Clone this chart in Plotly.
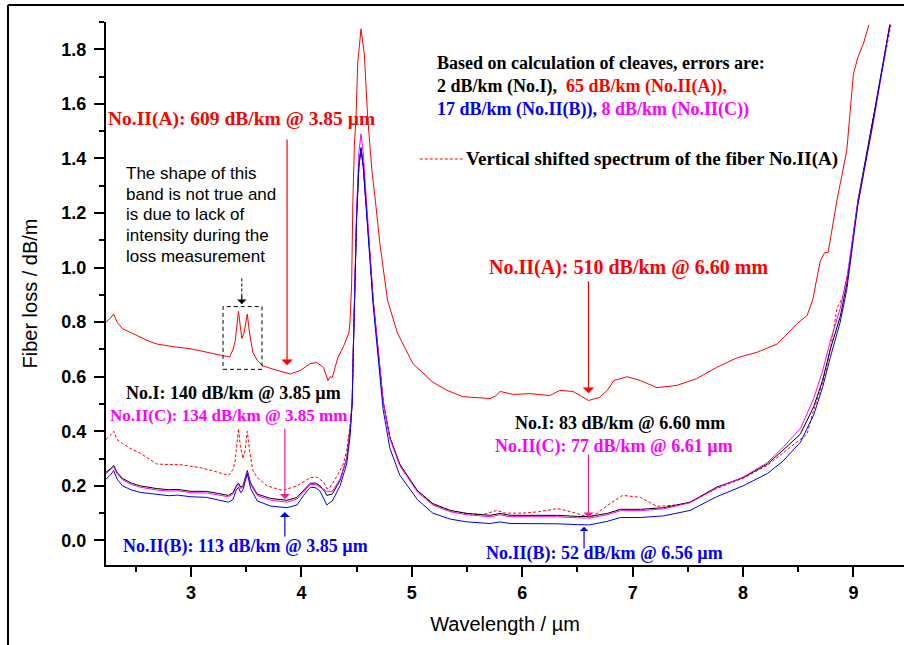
import plotly.graph_objects as go

# ---------------- data ----------------
wl_IIA = [2.23, 2.27, 2.30, 2.33, 2.38, 2.46, 2.54, 2.62, 2.69, 2.84, 2.99, 3.14, 3.29, 3.35, 3.38, 3.40,
          3.43, 3.445, 3.46, 3.48, 3.51, 3.53, 3.56, 3.60, 3.65, 3.78, 3.90, 3.99, 4.08, 4.14, 4.20, 4.24,
          4.26, 4.28, 4.33, 4.38, 4.41, 4.43, 4.44, 4.455, 4.466, 4.48, 4.495, 4.51, 4.54, 4.57, 4.60, 4.64,
          4.67, 4.71, 4.78, 4.87, 5.01, 5.19, 5.32, 5.46, 5.71, 5.76, 5.80, 5.92, 6.07, 6.25, 6.34, 6.46,
          6.53, 6.60, 6.70, 6.77, 6.83, 6.95, 7.07, 7.22, 7.40, 7.58, 7.76, 7.95, 8.13, 8.31, 8.49, 8.58,
          8.63, 8.70, 8.74, 8.77, 8.80, 8.85, 8.94, 9.00, 9.04, 9.09, 9.14]
loss_IIA = [0.80, 0.815, 0.83, 0.80, 0.776, 0.76, 0.744, 0.73, 0.72, 0.71, 0.703, 0.69, 0.678, 0.672, 0.70, 0.73,
            0.84, 0.78, 0.74, 0.76, 0.83, 0.76, 0.69, 0.66, 0.64, 0.623, 0.61, 0.623, 0.648, 0.652, 0.634, 0.586,
            0.60, 0.598, 0.67, 0.71, 0.74, 0.76, 0.80, 0.94, 1.245, 1.45, 1.556, 1.75, 1.875, 1.78, 1.55, 1.35,
            1.245, 1.09, 0.88, 0.76, 0.648, 0.58, 0.55, 0.527, 0.52, 0.53, 0.546, 0.535, 0.538, 0.531, 0.55, 0.546,
            0.53, 0.513, 0.524, 0.55, 0.586, 0.60, 0.586, 0.56, 0.568, 0.593, 0.634, 0.67, 0.69, 0.72, 0.795, 0.824,
            0.88, 1.025, 1.055, 1.055, 1.125, 1.245, 1.43, 1.71, 1.77, 1.82, 1.89]

wl_shift = [2.23, 2.27, 2.30, 2.33, 2.38, 2.46, 2.54, 2.62, 2.69, 2.80, 2.90, 3.08, 3.20, 3.34, 3.38, 3.40,
            3.43, 3.445, 3.47, 3.49, 3.51, 3.53, 3.56, 3.60, 3.69, 3.83, 3.96, 4.08, 4.14, 4.20, 4.23, 4.26,
            4.30, 4.38, 4.41, 4.44, 4.46, 4.47, 4.48, 4.50, 4.52, 4.54, 4.56, 4.59, 4.62, 4.65, 4.70, 4.74,
            4.80, 4.89, 5.05, 5.19, 5.35, 5.50, 5.65, 5.77, 5.85, 6.00, 6.15, 6.32, 6.46, 6.55, 6.61, 6.68,
            6.77, 6.91, 7.07, 7.22, 7.40, 7.52, 7.76, 8.00, 8.22, 8.36, 8.52, 8.58, 8.63, 8.70, 8.75, 8.80,
            8.85, 8.90, 8.96, 9.02, 9.18, 9.34]
loss_shift = [0.37, 0.385, 0.40, 0.37, 0.355, 0.335, 0.32, 0.30, 0.28, 0.278, 0.278, 0.267, 0.255, 0.238, 0.26, 0.29,
              0.41, 0.35, 0.30, 0.33, 0.40, 0.33, 0.256, 0.23, 0.20, 0.183, 0.20, 0.23, 0.232, 0.214, 0.19, 0.195,
              0.22, 0.28, 0.33, 0.42, 0.51, 0.70, 0.88, 1.19, 1.37, 1.44, 1.37, 1.22, 1.05, 0.88, 0.68, 0.51,
              0.38, 0.28, 0.18, 0.133, 0.108, 0.098, 0.095, 0.11, 0.10, 0.10, 0.105, 0.117, 0.103, 0.09, 0.084, 0.10,
              0.128, 0.165, 0.158, 0.125, 0.13, 0.14, 0.19, 0.228, 0.275, 0.32, 0.37, 0.39, 0.465, 0.55, 0.62, 0.72,
              0.85, 0.89, 1.0, 1.18, 1.55, 1.89]

wl_std = [2.23, 2.27, 2.30, 2.33, 2.38, 2.46, 2.54, 2.69, 2.80, 2.88, 3.00, 3.14, 3.25, 3.34, 3.38, 3.41,
          3.43, 3.45, 3.47, 3.51, 3.54, 3.60, 3.72, 3.87, 3.96, 4.02, 4.08, 4.13, 4.17, 4.21, 4.23, 4.26,
          4.28, 4.35, 4.41, 4.44, 4.46, 4.47, 4.48, 4.50, 4.52, 4.54, 4.56, 4.59, 4.62, 4.65, 4.70, 4.74,
          4.80, 4.89, 5.05, 5.19, 5.35, 5.50, 5.71, 5.80, 5.89, 6.10, 6.32, 6.50, 6.61, 6.77, 6.89, 7.07,
          7.28, 7.52, 7.76, 8.00, 8.22, 8.36, 8.52, 8.64, 8.72, 8.79, 8.88, 8.94, 9.00, 9.04, 9.18, 9.33]

loss_I = [0.25, 0.262, 0.275, 0.25, 0.227, 0.21, 0.20, 0.19, 0.186, 0.187, 0.18, 0.18, 0.172, 0.165, 0.175, 0.20,
          0.21, 0.195, 0.20, 0.256, 0.21, 0.17, 0.154, 0.147, 0.158, 0.185, 0.21, 0.21, 0.20, 0.18, 0.165, 0.168,
          0.17, 0.22, 0.30, 0.40, 0.51, 0.70, 0.88, 1.19, 1.37, 1.435, 1.37, 1.22, 1.05, 0.88, 0.68, 0.51,
          0.38, 0.28, 0.183, 0.135, 0.11, 0.099, 0.092, 0.099, 0.092, 0.092, 0.092, 0.088, 0.088, 0.099, 0.114, 0.114,
          0.12, 0.14, 0.195, 0.23, 0.28, 0.33, 0.39, 0.49, 0.586, 0.70, 0.82, 0.94, 1.12, 1.245, 1.55, 1.89]

loss_IIC = [0.245, 0.258, 0.27, 0.245, 0.222, 0.205, 0.195, 0.185, 0.181, 0.182, 0.175, 0.174, 0.167, 0.16, 0.17, 0.195,
            0.205, 0.19, 0.196, 0.25, 0.205, 0.165, 0.148, 0.14, 0.152, 0.18, 0.205, 0.205, 0.196, 0.185, 0.18, 0.178,
            0.18, 0.225, 0.30, 0.40, 0.51, 0.70, 0.88, 1.21, 1.42, 1.49, 1.42, 1.24, 1.06, 0.88, 0.68, 0.51,
            0.375, 0.275, 0.178, 0.13, 0.105, 0.094, 0.087, 0.094, 0.087, 0.087, 0.087, 0.083, 0.082, 0.094, 0.109, 0.109,
            0.116, 0.138, 0.192, 0.232, 0.285, 0.34, 0.41, 0.52, 0.62, 0.73, 0.85, 0.96, 1.13, 1.24, 1.53, 1.89]

loss_IIB = [0.225, 0.24, 0.256, 0.225, 0.20, 0.185, 0.176, 0.168, 0.164, 0.166, 0.16, 0.158, 0.148, 0.14, 0.15, 0.185,
            0.195, 0.175, 0.185, 0.245, 0.19, 0.145, 0.126, 0.12, 0.13, 0.165, 0.195, 0.193, 0.18, 0.15, 0.13, 0.14,
            0.145, 0.20, 0.28, 0.38, 0.50, 0.69, 0.87, 1.18, 1.37, 1.44, 1.37, 1.21, 1.03, 0.86, 0.65, 0.48,
            0.34, 0.24, 0.15, 0.10, 0.078, 0.068, 0.062, 0.068, 0.062, 0.062, 0.061, 0.058, 0.057, 0.07, 0.084, 0.084,
            0.09, 0.11, 0.16, 0.20, 0.245, 0.29, 0.36, 0.46, 0.56, 0.67, 0.80, 0.92, 1.10, 1.23, 1.54, 1.89]

x_ticks = [3, 4, 5, 6, 7, 8, 9]
y_ticks = [0.0, 0.2, 0.4, 0.6, 0.8, 1.0, 1.2, 1.4, 1.6, 1.8]

RED = "#ff0000"
BLUE = "#0000ff"
MAG = "#ff00ff"
PINK = "#ff1a8c"

fig = go.Figure()
fig.add_trace(go.Scatter(x=wl_shift, y=loss_shift, mode="lines",
                         line=dict(color=RED, width=1, dash="3px,2px"), name="shifted II(A)"))
fig.add_trace(go.Scatter(x=wl_IIA, y=loss_IIA, mode="lines", line=dict(color=RED, width=1), name="No.II(A)"))
fig.add_trace(go.Scatter(x=wl_std, y=loss_I, mode="lines", line=dict(color="black", width=1), name="No.I"))
fig.add_trace(go.Scatter(x=wl_std, y=loss_IIC, mode="lines", line=dict(color=MAG, width=1), name="No.II(C)"))
fig.add_trace(go.Scatter(x=wl_std, y=loss_IIB, mode="lines", line=dict(color=BLUE, width=1), name="No.II(B)"))

SERIF = "Liberation Serif"
SANS = "Liberation Sans"


def label(x, y, text, color, size=18, family=SERIF, weight="bold"):
    fig.add_annotation(x=x, y=y, xref="x", yref="y", text=text, showarrow=False,
                       xanchor="left", yanchor="middle", xshift=-3, borderpad=0,
                       font=dict(family=family, size=size, color=color, weight=weight))


def arrow(x, y_tail, y_head, color, size=1.4):
    fig.add_annotation(x=x, y=y_head, ax=x, ay=y_tail, xref="x", yref="y", axref="x", ayref="y",
                       text="", showarrow=True, arrowhead=1, arrowsize=size, arrowwidth=1.2,
                       arrowcolor=color)


# top-right info block
label(5.244, 1.750, "Based on calculation of cleaves, errors are:", "black")
label(5.244, 1.665, "2 dB/km (No.I),  <span style='color:#ff0000'>65 dB/km (No.II(A)),</span>", "black")
label(5.244, 1.581, "17 dB/km (No.II(B)), <span style='color:#ff00ff'>8 dB/km (No.II(C))</span>", BLUE)
fig.add_shape(type="line", xref="x", yref="y", x0=5.072, x1=5.462, y0=1.398, y1=1.398,
              line=dict(color=RED, width=1, dash="3px,2px"))
label(5.507, 1.398, "Vertical shifted spectrum of the fiber No.II(A)", "black", size=19)

# No.II(A) labels
label(2.267, 1.545, "No.II(A): 609 dB/km @ 3.85 \u00b5m", RED, size=19.5)
arrow(3.87, 1.475, 0.642, RED, 1.6)
label(5.715, 1.000, "No.II(A): 510 dB/km @ 6.60 mm", RED, size=20)
arrow(6.60, 0.955, 0.539, RED, 1.6)

# explanatory note
note_lines = ["The shape of this", "band is not true and", "is due to lack of",
              "intensity during the", "loss measurement"]
for i, t in enumerate(note_lines):
    label(2.43, (540.5 - (173 + 20.6 * i)) / 273.5, t, "black", size=17, family=SANS, weight="normal")

# dashed box around the 3.4 µm band and dashed arrow
fig.add_shape(type="rect", xref="x", yref="y", x0=3.29, x1=3.643, y0=0.627, y1=0.857,
              line=dict(color="black", width=1, dash="4px,3px"))
fig.add_shape(type="line", xref="x", yref="y", x0=3.46, x1=3.46, y0=0.96, y1=0.90,
              line=dict(color="black", width=1, dash="3px,2px"))
arrow(3.46, 0.905, 0.866, "black", 1.3)

# 3.85 µm labels
label(2.43, 0.539, "No.I: 140 dB/km @ 3.85 \u00b5m", "black")
label(2.285, 0.459, "No.II(C): 134 dB/km @ 3.85 mm", MAG, size=17)
arrow(3.85, 0.415, 0.152, PINK, 1.4)
label(2.40, -0.024, "No.II(B): 113 dB/km @ 3.85 \u00b5m", BLUE)
arrow(3.85, 0.009, 0.104, BLUE, 1.4)

# 6.6 µm labels
label(5.95, 0.430, "No.I: 83 dB/km @ 6.60 mm", "black")
label(5.77, 0.346, "No.II(C): 77 dB/km @ 6.61 \u00b5m", MAG)
arrow(6.60, 0.320, 0.084, PINK, 1.4)
label(5.69, -0.049, "No.II(B): 52 dB/km @ 6.56 \u00b5m", BLUE)
arrow(6.56, -0.035, 0.050, BLUE, 1.2)

# outer frame of the figure (top and left edges)
fl = (8 - 106) / 798
ft = (565 - 5) / 543
fig.add_shape(type="line", xref="paper", yref="paper", x0=fl, x1=1.0, y0=ft, y1=ft,
              line=dict(color="black", width=2))
fig.add_shape(type="line", xref="paper", yref="paper", x0=fl, x1=fl, y0=ft, y1=-0.16,
              line=dict(color="black", width=2))

axis_common = dict(showline=True, linecolor="black", linewidth=2, ticks="outside", ticklen=10,
                   tickwidth=2, tickcolor="black", showgrid=False, zeroline=False, mirror=False,
                   tickfont=dict(family=SANS, size=18, color="black", weight="bold"))

fig.update_xaxes(range=[2.23, 9.458], tickvals=x_ticks, ticktext=[str(v) for v in x_ticks],
                 minor=dict(dtick=0.5, ticklen=5, tickwidth=2, tickcolor="black", ticks="outside"),
                 title=dict(text="Wavelength / \u00b5m", font=dict(family=SANS, size=20, color="black"),
                            standoff=15),
                 **axis_common)
fig.update_yaxes(range=[-0.09, 1.9], tickvals=y_ticks, ticktext=[f"{v:.1f}" for v in y_ticks],
                 ticklabelstandoff=4,
                 minor=dict(dtick=0.1, tick0=0, ticklen=5, tickwidth=2, tickcolor="black", ticks="outside"),
                 title=dict(text="Fiber loss / dB/m", font=dict(family=SANS, size=20, color="black"),
                            standoff=18),
                 **axis_common)

fig.update_layout(width=904, height=645, margin=dict(l=106, r=0, t=22, b=80, autoexpand=False),
                  paper_bgcolor="white", plot_bgcolor="white", showlegend=False)

fig.write_html("out.html")
